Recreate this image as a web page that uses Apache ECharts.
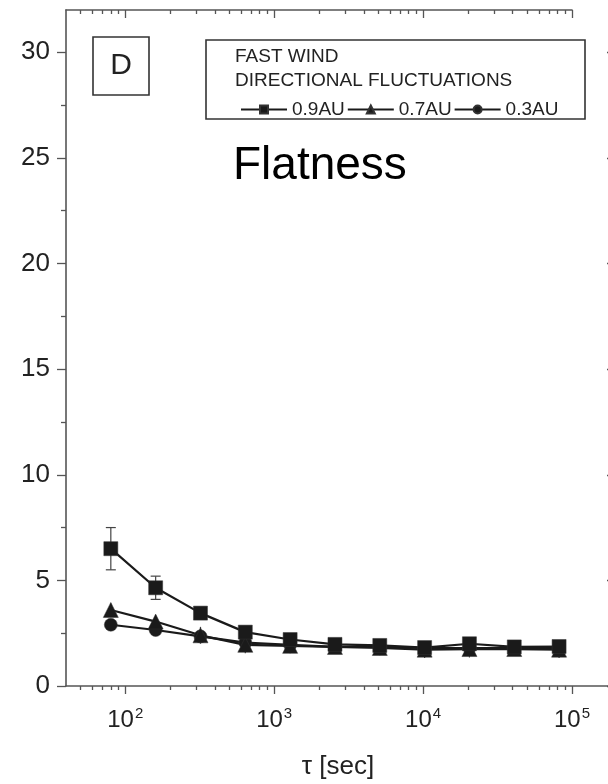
<!DOCTYPE html>
<html><head><meta charset="utf-8">
<script src="https://cdn.jsdelivr.net/npm/echarts@6/dist/echarts.min.js"></script>
<style>html,body{margin:0;padding:0;background:#fff}#c{width:608px;height:784px}</style>
</head><body><div id="c"></div>
<script>
// ---- data ----
const tau = [80, 160, 320, 640, 1280, 2560, 5120, 10240, 20480, 40960, 81920];
const flat09 = [6.5, 4.65, 3.45, 2.55, 2.2, 1.97, 1.92, 1.82, 2.0, 1.85, 1.87];
const flat07 = [3.6, 3.05, 2.4, 1.95, 1.9, 1.85, 1.8, 1.72, 1.75, 1.75, 1.72];
const flat03 = [2.9, 2.65, 2.35, 2.05, 1.95, 1.85, 1.85, 1.8, 1.8, 1.8, 1.8];
const err09 = [1.0, 0.55, 0.15, 0.2, 0.12, 0.12, 0.12, 0.12, 0.15, 0.12, 0.12];
const err07 = [0.3, 0.3, 0.4, 0.4, 0.35, 0.3, 0.35, 0.4, 0.4, 0.3, 0.4];
const err03 = [0.15, 0.15, 0.12, 0.12, 0.1, 0.1, 0.1, 0.1, 0.1, 0.1, 0.1];
const seriesNames = ['0.9AU', '0.7AU', '0.3AU'];
const xMajorTicks = [100, 1000, 10000, 100000];
const xMinorTicks = [50, 60, 70, 80, 90, 200, 300, 400, 500, 600, 700, 800, 900,
  2000, 3000, 4000, 5000, 6000, 7000, 8000, 9000,
  20000, 30000, 40000, 50000, 60000, 70000, 80000, 90000];
const yMajorTicks = [0, 5, 10, 15, 20, 25, 30];
const yMinorTicks = [2.5, 7.5, 12.5, 17.5, 22.5, 27.5];
const supMap = {100: '2', 1000: '3', 10000: '4', 100000: '5'};

const FONT = '"Liberation Sans", Arial, Helvetica, sans-serif';
const AX = '#555';
const X_MIN = 40, X_MAX = 180000, X_MAX_TOP = 100000, Y_MIN = 0, Y_MAX = 32;

const chart = echarts.init(document.getElementById('c'), null, {renderer: 'canvas'});

function xAx(grid, max, pos, ticks, len, inside, showLine, labels) {
  return {
    gridIndex: grid,
    type: 'log', logBase: 10, position: pos, min: X_MIN, max: max,
    axisLine: {show: showLine, onZero: false, lineStyle: {color: AX, width: 1.6}},
    axisTick: {show: true, inside: inside, length: len, customValues: ticks, lineStyle: {color: AX, width: 1.3}},
    splitLine: {show: false}, minorTick: {show: false},
    axisLabel: labels ? {
      show: true, customValues: xMajorTicks, margin: 20,
      formatter: v => '{b|10}{s|' + (supMap[Math.round(v)] || '') + '}',
      rich: {
        b: {fontSize: 24, fontFamily: FONT, color: '#222', verticalAlign: 'bottom', lineHeight: 26},
        s: {fontSize: 15, fontFamily: FONT, color: '#222', verticalAlign: 'top', padding: [0, 0, 10, 1], lineHeight: 26}
      }
    } : {show: false}
  };
}
function yAx(pos, ticks, len, inside, showLine, labels) {
  return {
    gridIndex: 0,
    type: 'value', position: pos, min: Y_MIN, max: Y_MAX,
    axisLine: {show: showLine, onZero: false, lineStyle: {color: AX, width: 1.6}},
    axisTick: {show: true, inside: inside, length: len, customValues: ticks, lineStyle: {color: AX, width: 1.3}},
    splitLine: {show: false}, minorTick: {show: false},
    axisLabel: labels ? {show: true, customValues: yMajorTicks, margin: 16, fontSize: 26, fontFamily: FONT, color: '#222'} : {show: false}
  };
}

function errSeries(vals, errs, cap) {
  return {
    type: 'custom', xAxisIndex: 0, yAxisIndex: 0, silent: true, z: 1,
    encode: {x: 0, y: [1, 2]},
    data: tau.map((t, i) => [t, vals[i] - errs[i], vals[i] + errs[i]]),
    renderItem: function (params, api) {
      const lo = api.coord([api.value(0), api.value(1)]);
      const hi = api.coord([api.value(0), api.value(2)]);
      const st = {stroke: '#444', lineWidth: 1.2};
      return {type: 'group', children: [
        {type: 'line', shape: {x1: lo[0], y1: lo[1], x2: hi[0], y2: hi[1]}, style: st},
        {type: 'line', shape: {x1: lo[0] - cap, y1: lo[1], x2: lo[0] + cap, y2: lo[1]}, style: st},
        {type: 'line', shape: {x1: hi[0] - cap, y1: hi[1], x2: hi[0] + cap, y2: hi[1]}, style: st}
      ]};
    }
  };
}
function lineSeries(name, vals, symbol, size) {
  return {
    name: name, type: 'line', xAxisIndex: 0, yAxisIndex: 0, z: 3,
    data: tau.map((t, i) => [t, vals[i]]),
    symbol: symbol, symbolSize: size, showAllSymbol: true,
    lineStyle: {color: '#1a1a1a', width: 2.2},
    itemStyle: {color: '#1a1a1a', borderColor: '#333', borderWidth: 0.5, opacity: 1},
    emphasis: {disabled: true}, animation: false
  };
}

const option = {
  animation: false,
  backgroundColor: '#fff',
  grid: [
    {left: 66, right: -2, top: 10, bottom: 98, containLabel: false, outerBoundsMode: 'none'},
    {left: 66, width: 506, top: 10, bottom: 98, containLabel: false, outerBoundsMode: 'none'}
  ],
  xAxis: [
    xAx(0, X_MAX, 'bottom', xMajorTicks, 8, false, true, true),
    xAx(0, X_MAX, 'bottom', xMinorTicks, 4, false, false, false),
    xAx(1, X_MAX_TOP, 'top', xMajorTicks, 8, true, true, false),
    xAx(1, X_MAX_TOP, 'top', xMinorTicks, 4, true, false, false)
  ],
  yAxis: [
    yAx('left', yMajorTicks, 9, false, true, true),
    yAx('left', yMinorTicks, 5, false, false, false),
    yAx('right', yMajorTicks, 3, true, true, false),
    {gridIndex: 1, type: 'value', min: Y_MIN, max: Y_MAX, show: false}
  ],
  legend: {
    left: 235, top: 95, orient: 'horizontal',
    itemWidth: 46, itemHeight: 10, itemGap: 2,
    textStyle: {fontSize: 19, fontFamily: FONT, color: '#222'},
    data: seriesNames, selectedMode: false
  },
  series: [
    errSeries(flat09, err09, 5),
    errSeries(flat07, err07, 0),
    errSeries(flat03, err03, 0),
    lineSeries(seriesNames[2], flat03, 'circle', 13),
    lineSeries(seriesNames[1], flat07, 'triangle', 15),
    lineSeries(seriesNames[0], flat09, 'rect', 14)
  ],
  graphic: [
    {type: 'rect', shape: {x: 93, y: 37, width: 56, height: 58}, style: {fill: 'none', stroke: '#333', lineWidth: 1.6}, z: 10},
    {type: 'text', x: 121, y: 66, style: {text: 'D', font: '30px ' + FONT, fill: '#222', align: 'center', verticalAlign: 'middle'}, z: 10},
    {type: 'rect', shape: {x: 206, y: 40, width: 379, height: 79}, style: {fill: 'none', stroke: '#333', lineWidth: 1.6}, z: 10},
    {type: 'text', x: 235, y: 57, style: {text: 'FAST WIND', font: '19px ' + FONT, fill: '#222', align: 'left', verticalAlign: 'middle'}, z: 10},
    {type: 'text', x: 235, y: 81, style: {text: 'DIRECTIONAL FLUCTUATIONS', font: '19px ' + FONT, fill: '#222', align: 'left', verticalAlign: 'middle'}, z: 10},
    {type: 'text', x: 233, y: 166, style: {text: 'Flatness', font: '46px ' + FONT, fill: '#000', align: 'left', verticalAlign: 'middle'}, z: 10}
  ]
};
option.xAxis[0].name = 'τ [sec]';
option.xAxis[0].nameLocation = 'middle';
option.xAxis[0].nameGap = 68;
option.xAxis[0].nameTextStyle = {fontSize: 26, fontFamily: FONT, color: '#222'};
chart.setOption(option);
</script>
</body></html>
